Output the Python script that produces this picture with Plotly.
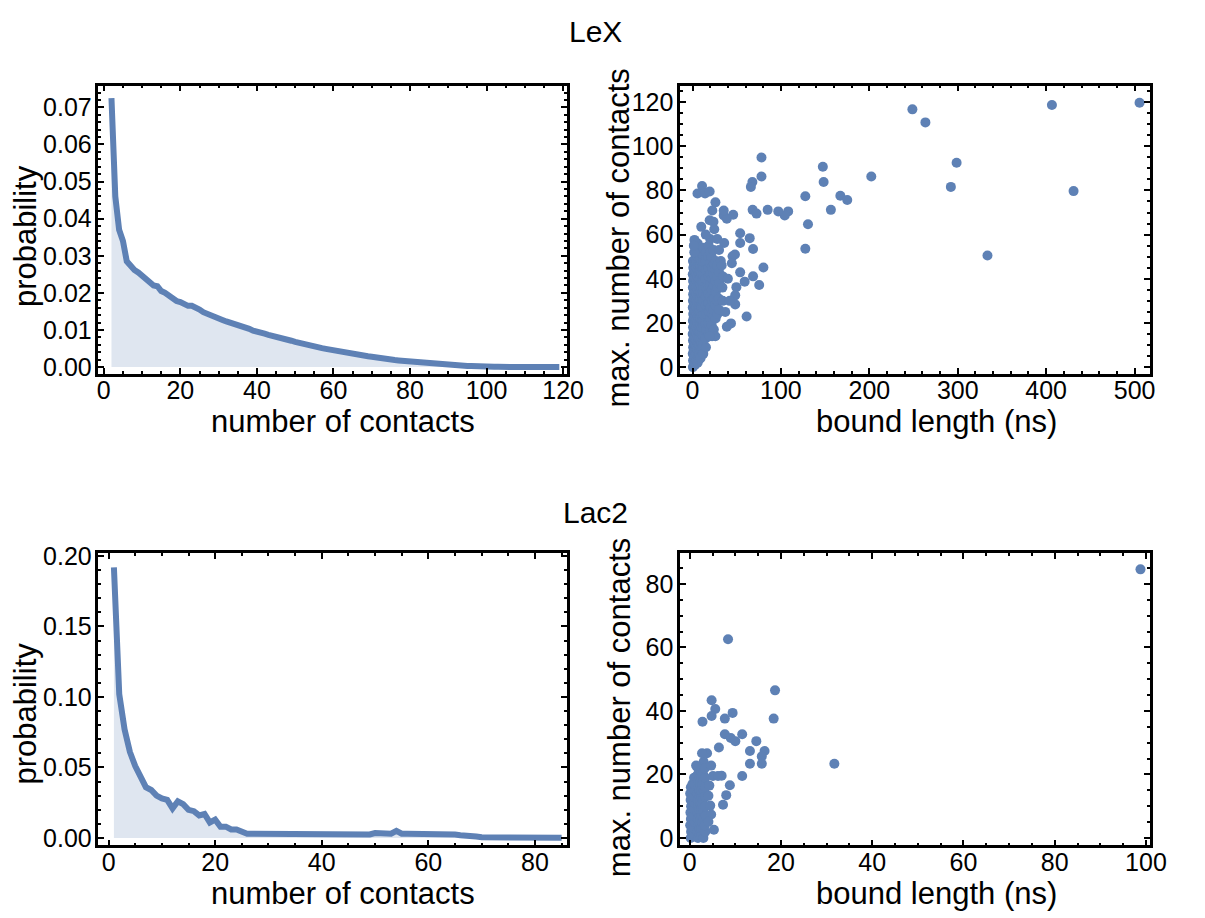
import plotly.graph_objects as go

# ---------------- data ----------------
# LeX: probability vs number of contacts
lex_ncontacts = list(range(2, 120))
lex_prob = [
    0.0725, 0.0460, 0.0370, 0.0340, 0.0285, 0.0270, 0.0262, 0.0255, 0.0245,   # 2-10
    0.0238, 0.0230, 0.0220, 0.0218, 0.0205, 0.0200, 0.0192, 0.0185, 0.0178, 0.0175,  # 11-20
    0.0170, 0.0165, 0.0165, 0.0162, 0.0155, 0.0148, 0.0143, 0.0140, 0.0135, 0.0130,  # 21-30
    0.0127, 0.0123, 0.0120, 0.0118, 0.0115, 0.0110, 0.0107, 0.0103, 0.0098, 0.0094,  # 31-40
    0.0092, 0.0090, 0.0087, 0.0085, 0.0082, 0.0078, 0.0076, 0.0074, 0.0071, 0.0068,  # 41-50
    0.0065, 0.0063, 0.0061, 0.0058, 0.0056, 0.0054, 0.0051, 0.0049, 0.0047, 0.0045,  # 51-60
    0.0043, 0.0041, 0.0038, 0.0036, 0.0034, 0.0031, 0.0030, 0.0030, 0.0029, 0.0028,  # 61-70
    0.0026, 0.0023, 0.0021, 0.0020, 0.0019, 0.0019, 0.0018, 0.0017, 0.0017, 0.0016,  # 71-80
    0.0014, 0.0012, 0.0011, 0.0010, 0.0010, 0.0009, 0.0009, 0.0008, 0.0007, 0.0006,  # 81-90
    0.0006, 0.0005, 0.0005, 0.0004, 0.0003, 0.0003, 0.0002, 0.0002, 0.0001, 0.0001,  # 91-100
    0.00008, 0.00007, 0.00006, 0.00006, 0.00005, 0.00005, 0.00004, 0.00004, 0.00004, 0.00003,  # 101-110
    0.00003, 0.00003, 0.00002, 0.00002, 0.00002, 0.00002, 0.00001, 0.00001, 0.00001,  # 111-119
]

# Lac2: probability vs number of contacts
lac_ncontacts = list(range(1, 86))
lac_prob = [
    0.192, 0.102, 0.077, 0.061, 0.051, 0.044, 0.036, 0.034, 0.030, 0.028,   # 1-10
    0.027, 0.021, 0.026, 0.024, 0.020, 0.019, 0.016, 0.017, 0.011, 0.013,   # 11-20
    0.008, 0.008, 0.006, 0.006, 0.004, 0.003, 0.003, 0.003, 0.003, 0.0025,  # 21-30
    0.002, 0.002, 0.002, 0.0025, 0.003, 0.002, 0.0025, 0.0025, 0.003, 0.003,  # 31-40
    0.0025, 0.002, 0.0025, 0.003, 0.0025, 0.002, 0.0025, 0.003, 0.0025, 0.0035,  # 41-50
    0.003, 0.0025, 0.003, 0.005, 0.003, 0.003, 0.003, 0.003, 0.003, 0.0025,  # 51-60
    0.0025, 0.0035, 0.003, 0.0025, 0.0025, 0.002, 0.002, 0.0015, 0.001, 0.0005,  # 61-70
    0.0005, 0.001, 0.001, 0.0008, 0.0005, 0.0005, 0.0005, 0.0004, 0.0004, 0.0003,  # 71-80
    0.0003, 0.0003, 0.0002, 0.0002, 0.0002,  # 81-85
]

# LeX: bound length (ns) vs max. number of contacts
lex_bound_ns = [
    0.4, 0.6, 0.3, 0.7, 0.5, 0.2, 0.6, 0.4, 0.8, 0.3, 0.5, 0.7, 0.4, 0.6, 0.3, 0.9, 0.5,
    1.7, 1.9, 1.5, 1.8, 1.6, 2.0, 1.7, 1.5, 1.9, 1.8, 1.6, 1.7, 2.0, 1.5, 1.8, 1.7,
    2.8, 3.1, 2.6, 3.3, 2.9, 3.0, 2.7, 3.2, 2.8, 3.4, 2.9, 3.1, 2.6, 3.0, 3.3, 2.7, 3.1, 2.9,
    4.5, 4.3, 4.7, 4.4, 4.6, 4.5, 4.2, 4.8, 4.5, 4.4, 4.6, 4.3, 4.7, 4.5, 4.4, 4.6, 4.5,
    5.8, 6.2, 5.6, 6.1, 5.9, 6.4, 5.7, 6.0, 6.3, 5.8, 6.1, 5.9, 6.2, 5.7, 6.0, 6.4, 5.8, 6.1, 5.9,
    7.5, 7.3, 7.7, 7.4, 7.6, 7.5, 7.2, 7.8, 7.5, 7.4, 7.6, 7.3, 7.7, 7.5, 7.4, 7.6, 7.5,
    9.1, 8.8, 9.3, 8.9, 9.2, 9.0, 8.7, 9.4, 9.1, 8.9, 9.2, 8.8, 9.3, 9.0, 8.9, 9.2,
    10.5, 10.3, 10.7, 10.4, 10.6, 10.5, 10.2, 10.8, 10.5, 10.4, 10.6, 10.3, 10.7, 10.5, 10.4,
    12.2, 11.8, 12.4, 12.0, 11.7, 12.3, 12.1, 11.9, 12.5, 12.0, 11.8, 12.2, 12.4, 11.9, 12.1, 12.3,
    15.2, 14.8, 15.4, 15.0, 15.3, 14.9, 15.1, 15.5, 14.7, 15.2, 15.0, 15.3,
    18.3, 17.8, 18.5, 18.0, 18.2, 17.9, 18.4, 18.1, 17.7, 18.3,
    20.2, 19.8, 20.4, 20.0, 19.7, 20.3, 20.1, 19.9,
    22.1, 21.7, 22.4, 22.0, 21.8, 22.3, 22.0, 21.6,
    24.1, 23.8, 24.3, 24.0, 23.7, 24.2, 24.0,
    26.2, 25.8, 26.4, 26.0, 25.7, 26.3,
    28.2, 27.9, 28.4, 28.0, 27.8,
    30.1, 29.8, 30.4, 30.0,
    34.2, 33.8, 34.5,
    505.6, 406.5, 248.7, 263.4, 298.7, 292.2, 431.0, 333.6, 202.2, 147.4, 148.3, 156.5,
    167.2, 175.0, 127.6, 130.6, 127.6, 108.2, 104.3, 97.0, 85.0, 78.0, 78.0, 67.7,
    66.0, 68.0, 72.4, 80.2, 75.4, 68.5, 68.5, 64.7, 53.9, 53.9, 59.0, 61.2,
    49.6, 48.3, 48.3, 53.9, 45.3, 35.8, 43.5, 38.8, 35.3, 38.8, 46.0, 35.3, 25.9,
    22.4, 19.4, 23.7, 24.6, 10.8, 5.6, 14.2, 19.4, 9.9, 2.2, 25.9, 19.4,
    44.5, 48.0, 40.0, 42.0, 37.0, 32.0, 30.0, 20.0, 15.0, 28.0, 33.0, 2.0, 1.5,
]
lex_max_contacts = [
    0, 3, 6, 9, 12, 15, 18, 21, 24, 27, 30, 33, 36, 39, 42, 45, 48,
    1.5, 4.5, 7.5, 10.5, 13.5, 16.5, 19.5, 22.5, 25.5, 28.5, 31.5, 34.5, 37.5, 40.5, 43.5, 46.5,
    1, 4, 7, 10, 13, 16, 19, 22, 25, 28, 31, 34, 37, 40, 43, 46, 49, 52,
    3, 6, 9, 12, 15, 18, 21, 24, 27, 30, 33, 36, 39, 42, 45, 48, 51,
    2, 5, 8, 11, 14, 17, 20, 23, 26, 29, 32, 35, 38, 41, 44, 47, 50, 53, 56,
    3.5, 6.5, 9.5, 13, 16, 19, 22, 25, 28, 31, 34, 37, 40, 43, 46, 49, 54,
    4, 8, 12, 16, 19, 22, 25, 28, 31, 34, 37, 40, 43, 46, 49, 52,
    8, 11, 15, 18, 21, 24, 27, 30, 33, 36, 39, 42, 45, 48, 51,
    6, 10, 14, 18, 21, 24, 27, 30, 33, 36, 39, 42, 45, 48, 51, 54,
    9, 13, 17, 20, 24, 28, 32, 36, 40, 44, 48, 52,
    15, 20, 25, 29, 33, 37, 41, 45, 50, 55,
    17, 22, 27, 32, 37, 42, 47, 52,
    14, 19, 24, 30, 35, 40, 45, 50,
    17, 26, 31, 37, 42, 47, 53,
    22, 28, 34, 39, 44, 48,
    24, 30, 36, 41, 46,
    26, 31, 38, 43,
    30, 36, 41,
    119.7, 118.7, 116.7, 110.8, 92.5, 81.6, 79.7, 50.5, 86.3, 90.7, 83.8, 71.2,
    77.6, 75.7, 77.4, 64.7, 53.6, 70.5, 68.7, 70.5, 71.2, 94.9, 86.3, 83.8,
    81.6, 71.2, 69.5, 45.1, 37.2, 41.1, 53.5, 58.4, 56.2, 60.6, 38.7, 22.9,
    36.2, 32.5, 28.4, 42.9, 50.2, 56.2, 19.8, 18.3, 68.7, 67.2, 69.0, 70.9, 74.6,
    70.9, 66.5, 65.8, 62.4, 82.0, 78.6, 78.6, 79.5, 63.5, 57.6, 14.0, 14.0,
    47.0, 51.0, 40.0, 30.0, 25.0, 48.0, 53.0, 58.0, 60.0, 58.0, 46.0, 52.0, 55.0,
]

# Lac2: bound length (ns) vs max. number of contacts
lac_bound_ns = [
    0.2, 0.3, 0.1, 0.25, 0.15, 0.3, 0.2, 0.1, 0.25,
    0.6, 0.55, 0.65, 0.6, 0.5, 0.65, 0.6, 0.55, 0.6,
    1.0, 0.9, 1.1, 1.0, 0.95, 1.05, 0.9, 1.1, 1.0, 0.95,
    1.8, 1.7, 1.9, 1.8, 1.75, 1.85, 1.8, 1.7, 1.9, 1.8, 1.75, 1.85,
    2.2, 2.15, 2.25, 2.2, 2.1, 2.3, 2.2, 2.15, 2.25, 2.2,
    2.6, 2.5, 2.7, 2.6, 2.55, 2.65, 2.6, 2.5, 2.7, 2.6, 2.55,
    3.0, 2.95, 3.05, 3.0, 2.9, 3.1, 3.0, 2.95, 3.05,
    3.4, 3.3, 3.5, 3.4, 3.35, 3.45, 3.4, 3.3,
    98.8, 8.4, 18.7, 18.4, 31.7, 4.8, 5.6, 4.8, 9.4, 2.8, 7.7, 7.7, 9.0,
    10.0, 11.5, 14.6, 6.4, 13.2, 16.4, 15.8, 15.8, 13.2, 11.5, 7.0, 8.8,
    8.0, 7.3, 4.7, 5.3, 3.8, 2.7, 1.4, 4.7, 5.1, 6.2, 4.1, 4.5, 4.1, 4.3,
]
lac_max_contacts = [
    0, 2, 4, 6, 8, 10, 12, 14, 16,
    1, 3, 5, 7, 9, 11, 13, 15, 17,
    1, 3, 5, 7, 9, 11, 13, 15, 17, 19,
    0, 2, 4, 6, 8, 10, 12, 14, 16, 18, 20, 22,
    1, 3, 5, 7, 9, 11, 13, 15, 17, 19,
    1, 3, 5, 7, 9, 11, 13, 15, 17, 19, 21,
    0, 3, 6, 9, 12, 15, 18, 20, 24,
    2, 4, 7, 10, 13, 16, 19, 22,
    84.6, 62.6, 46.5, 37.6, 23.4, 43.4, 40.6, 38.4, 39.4, 36.6, 37.6, 32.7, 31.5,
    30.5, 32.7, 30.5, 28.5, 27.4, 27.4, 25.7, 23.4, 23.4, 19.5, 19.6, 16.6,
    13.5, 10.5, 7.4, 2.6, 26.7, 26.7, 22.8, 22.8, 19.5, 19.5, 5.1, 10.2, 13.3, 16.5,
]

titles = ["LeX", "Lac2"]

# ---------------- styling ----------------
W, H = 1205, 918
BLUE = "#5E81B5"
FILL = "rgba(94,129,181,0.2)"
FONT = "Liberation Sans, Arial, sans-serif"
TICKFONT = dict(family=FONT, size=25, color="black")
TITLEFONT = dict(family=FONT, size=31, color="black")
HEADFONT = dict(family=FONT, size=30, color="black")

xl = [98 / W, 574 / W]
xr = [689 / W, 1166 / W]
yt = [1 - 370 / H, 1 - 76 / H]
yb = [1 - 851 / H, 1 - 553 / H]

fig = go.Figure()

fig.add_trace(go.Scatter(x=lex_ncontacts, y=lex_prob, mode="lines",
                         line=dict(color=BLUE, width=6), fill="tozeroy",
                         fillcolor=FILL, xaxis="x", yaxis="y", showlegend=False))
fig.add_trace(go.Scatter(x=lex_bound_ns, y=lex_max_contacts, mode="markers",
                         marker=dict(color=BLUE, size=10, line=dict(width=0)),
                         xaxis="x2", yaxis="y2", showlegend=False))
fig.add_trace(go.Scatter(x=lac_ncontacts, y=lac_prob, mode="lines",
                         line=dict(color=BLUE, width=6), fill="tozeroy",
                         fillcolor=FILL, xaxis="x3", yaxis="y3", showlegend=False))
fig.add_trace(go.Scatter(x=lac_bound_ns, y=lac_max_contacts, mode="markers",
                         marker=dict(color=BLUE, size=10, line=dict(width=0)),
                         xaxis="x4", yaxis="y4", showlegend=False))


def ax(domain, rng, dtick, minor, anchor, is_x, fmt=None):
    d = dict(domain=domain, range=rng, dtick=dtick, tick0=0, anchor=anchor,
             showline=True, linecolor="black", linewidth=2.5, mirror="allticks",
             ticks="inside", ticklen=6, tickwidth=2, tickcolor="black",
             minor=dict(dtick=minor, tick0=0, ticks="inside", ticklen=3,
                        tickwidth=1.5, tickcolor="black", showgrid=False),
             showgrid=False, zeroline=False, tickfont=TICKFONT,
             ticklabelstandoff=-7 if is_x else -1)
    if fmt:
        d["tickformat"] = fmt
    return d


fig.update_layout(
    width=W, height=H, margin=dict(l=0, r=0, t=0, b=0),
    paper_bgcolor="white", plot_bgcolor="white", showlegend=False,
    xaxis=ax(xl, [-1.4, 121], 20, 5, "y", True),
    yaxis=ax(yt, [-0.0018, 0.0759], 0.01, 0.002, "x", False, ".2f"),
    xaxis2=ax(xr, [-14, 517], 100, 20, "y2", True),
    yaxis2=ax(yt, [-3, 127.5], 20, 5, "x2", False),
    xaxis3=ax(xl, [-1.9, 86], 20, 5, "y3", True),
    yaxis3=ax(yb, [-0.0052, 0.202], 0.05, 0.01, "x3", False, ".2f"),
    xaxis4=ax(xr, [-2.1, 100.8], 20, 5, "y4", True),
    yaxis4=ax(yb, [-2.3, 89.7], 20, 5, "x4", False),
)

ann = []


def text(t, x, y, font, angle=0):
    ann.append(dict(text=t, x=x / W, y=1 - y / H, xref="paper", yref="paper",
                    showarrow=False, font=font, textangle=angle,
                    xanchor="center", yanchor="middle"))


text(titles[0], 603, 21, HEADFONT)
text(titles[1], 603, 512, HEADFONT)
text("number of contacts", 346, 419, TITLEFONT)
text("bound length (ns)", 949, 419, TITLEFONT)
text("number of contacts", 346, 900, TITLEFONT)
text("bound length (ns)", 949, 900, TITLEFONT)
text("probability", 24, 230, TITLEFONT, -90)
text("probability", 24, 717, TITLEFONT, -90)
text("max. number of contacts", 626, 232, TITLEFONT, -90)
text("max. number of contacts", 627, 711, TITLEFONT, -90)

fig.update_layout(annotations=ann)
fig.write_html("out.html")
